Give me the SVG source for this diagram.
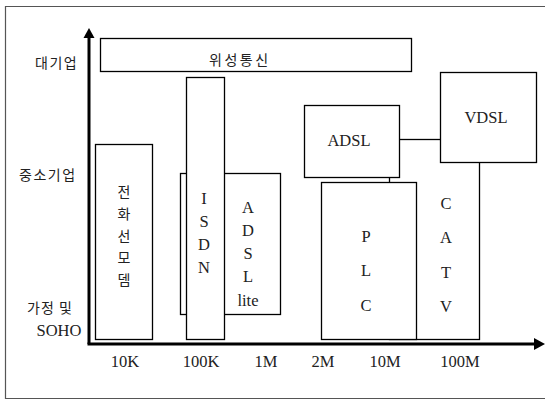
<svg xmlns="http://www.w3.org/2000/svg" width="545" height="401" viewBox="0 0 545 401">
<style>
.box{fill:#fff;stroke:#000;stroke-width:1.3}
.frame{fill:none;stroke:#555;stroke-width:1.2}
.axis{fill:none;stroke:#000;stroke-width:3}
.lat{font-family:"Liberation Serif","Times New Roman",serif;font-size:16.5px;fill:#222;text-anchor:middle}
.kor{font-family:"Noto Sans CJK KR","Noto Sans",sans-serif;font-size:14px;fill:#222}
</style>
<rect width="545" height="401" fill="#fff"/>
<path class="frame" d="M547 6.5H5.5V398.5H547"/>
<g id="ylabels">
<text class="kor" x="35" y="68" letter-spacing="1.5">대기업</text>
<text class="kor" x="19" y="180" letter-spacing="1.5">중소기업</text>
<text class="kor" x="27" y="313" letter-spacing="1">가정 및</text>
<text class="lat" x="59" y="336">SOHO</text>
</g>
<g id="satellite">
<rect class="box" x="100.5" y="38.5" width="311" height="33"/>
<text class="kor" x="209" y="65" font-size="15" letter-spacing="2.5">위성통신</text>
</g>
<g id="modem">
<rect class="box" x="95.5" y="144.5" width="57" height="195"/>
<g class="kor" text-anchor="middle">
<text x="124" y="197">전</text>
<text x="124" y="219">화</text>
<text x="124" y="241">선</text>
<text x="124" y="263">모</text>
<text x="124" y="285">뎀</text>
</g>
</g>
<g id="adsl-lite">
<rect class="box" x="180.5" y="173.5" width="100" height="141"/>
<g class="lat">
<text x="248" y="213">A</text>
<text x="248" y="236">D</text>
<text x="248" y="259">S</text>
<text x="248" y="282">L</text>
<text x="248" y="306">lite</text>
</g>
</g>
<g id="isdn">
<rect class="box" x="186.5" y="77.5" width="38" height="262"/>
<g class="lat">
<text x="204" y="204">I</text>
<text x="204" y="227">S</text>
<text x="204" y="250">D</text>
<text x="204" y="273">N</text>
</g>
</g>
<g id="catv">
<rect class="box" x="389.5" y="139.5" width="90" height="200"/>
<g class="lat">
<text x="446" y="209">C</text>
<text x="446" y="243">A</text>
<text x="446" y="278">T</text>
<text x="446" y="312">V</text>
</g>
</g>
<g id="adsl">
<rect class="box" x="304.5" y="105.5" width="95" height="72"/>
<text class="lat" x="349" y="146">ADSL</text>
</g>
<g id="vdsl">
<rect class="box" x="440.5" y="72.5" width="96" height="90"/>
<text class="lat" x="486" y="123">VDSL</text>
</g>
<g id="plc">
<rect class="box" x="321.5" y="182.5" width="95" height="157"/>
<g class="lat">
<text x="366" y="242">P</text>
<text x="366" y="276">L</text>
<text x="366" y="311">C</text>
</g>
</g>
<g id="connectors">
<path class="axis" d="M89 344V36"/>
<path class="axis" d="M87.5 344H535"/>
<path d="M89 28L83.5 38H94.5Z" fill="#000"/>
<path d="M545 344L534 338V350Z" fill="#000"/>
</g>
<g id="xlabels" class="lat">
<text x="125" y="367">10K</text>
<text x="201" y="367">100K</text>
<text x="266" y="367">1M</text>
<text x="323" y="367">2M</text>
<text x="385" y="367">10M</text>
<text x="460" y="367">100M</text>
</g>
</svg>
